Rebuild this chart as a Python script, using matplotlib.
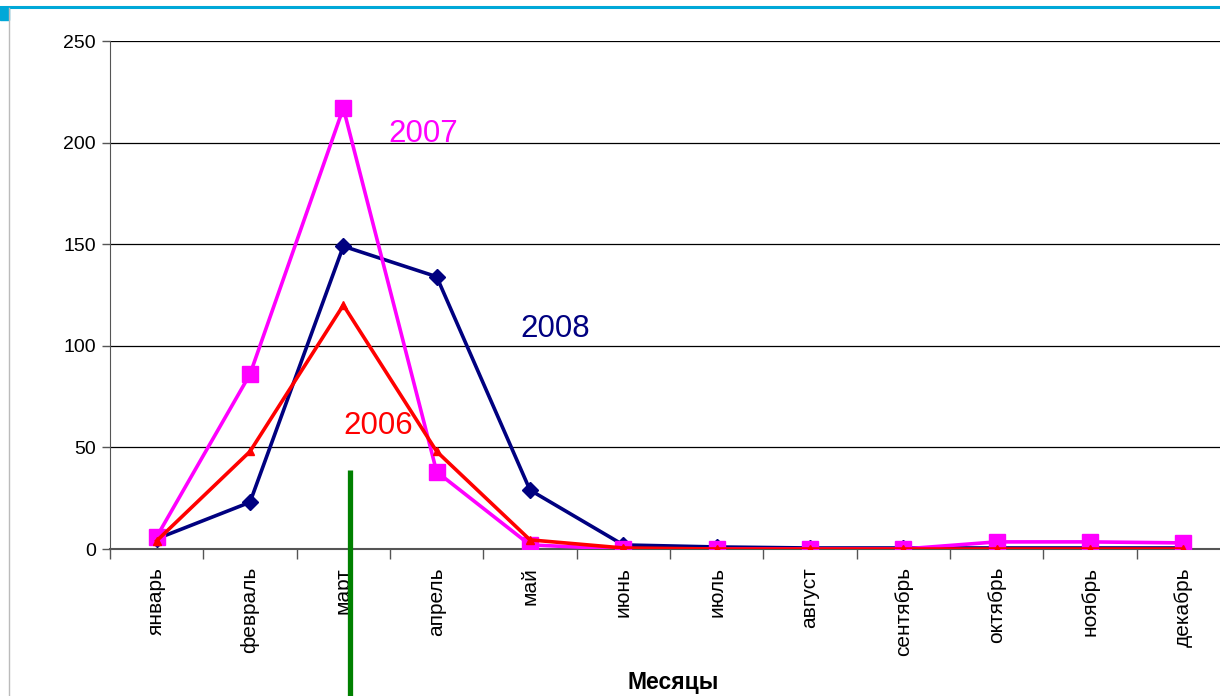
import matplotlib
matplotlib.use("Agg")
import matplotlib.pyplot as plt
from matplotlib.lines import Line2D
from matplotlib.patches import Rectangle

plt.rcParams['font.family'] = ['Liberation Sans', 'DejaVu Sans']

months = ["январь", "февраль", "март", "апрель", "май", "июнь",
          "июль", "август", "сентябрь", "октябрь", "ноябрь", "декабрь"]
y2008 = [5, 23, 149, 134, 29, 2, 1, 0.5, 0.5, 0.5, 0.5, 0.5]
y2007 = [6, 86, 217, 38, 2, 0, 0, 0, 0, 3.5, 3.5, 3]
y2006 = [4, 48, 120, 48, 4.5, 0.5, 0, 0, 0, 0, 0, 0]
yticks = [0, 50, 100, 150, 200, 250]

W, H = 1220, 696
fig = plt.figure(figsize=(W / 100, H / 100), dpi=100)

# axes box in pixel coordinates
left, right, top, bottom = 110, 1230, 41, 549
ax = fig.add_axes([left / W, 1 - bottom / H, (right - left) / W, (bottom - top) / H])

x = list(range(len(months)))
ax.plot(x, y2008, color="#000080", lw=2.6, marker="D", ms=8, zorder=3)
ax.plot(x, y2007, color="#ff00ff", lw=2.6, marker="s", ms=11, zorder=4)
ax.plot(x, y2006, color="#ff0000", lw=2.6, marker="^", ms=6, zorder=5)

ax.set_xlim(-0.5, len(months) - 0.5)
ax.set_ylim(0, 250)
ax.set_yticks(yticks)
ax.set_yticklabels([str(v) for v in yticks], fontsize=14)
ax.yaxis.grid(True, color="black", lw=0.9)
ax.set_axisbelow(True)

ax.set_xticks([i - 0.5 for i in range(len(months) + 1)])
ax.set_xticklabels([])
ax.set_xticks(x, minor=True)
ax.set_xticklabels(months, minor=True, rotation=90, fontsize=15, va="top")
ax.tick_params(axis="x", which="minor", length=0, pad=13)
ax.tick_params(axis="x", which="major", length=7, color="#555555", width=1)
ax.tick_params(axis="y", length=6, color="#555555", width=1, pad=4)

for side in ("top", "right"):
    ax.spines[side].set_visible(False)
ax.spines["left"].set_color("#555555")
ax.spines["bottom"].set_color("#555555")
ax.spines["bottom"].set_linewidth(1.5)

# series labels
ax.text(2.48, 204, "2007", color="#ff00ff", fontsize=22.5, ha="left", va="center")
ax.text(3.9, 108.5, "2008", color="#000080", fontsize=22.5, ha="left", va="center")
ax.text(2.0, 60.5, "2006", color="#ff0000", fontsize=22.5, ha="left", va="center")

ax.set_xlabel("Месяцы", fontsize=16.5, fontweight="bold")
ax.xaxis.set_label_coords((673 - left) / (right - left), -(682 - bottom) / (bottom - top))
ax.xaxis.label.set_va("center")

# green marker line
ax.add_line(Line2D([2.07, 2.07], [39, -80], color="#008000", lw=3.8,
                   clip_on=False, zorder=6, solid_capstyle="butt"))

# slide decorations
fig.add_artist(Line2D([0, 1], [1 - 7 / H, 1 - 7 / H], color="#00a8d8", lw=2.2,
                      transform=fig.transFigure))
fig.add_artist(Line2D([9 / W, 9 / W], [0, 1 - 8 / H], color="#bbbbbb", lw=1,
                      transform=fig.transFigure))
fig.add_artist(Rectangle((0, 1 - 20 / H), 9 / W, 13 / H, color="#00a8d8",
                         transform=fig.transFigure))

fig.savefig("out.png", dpi=100)
